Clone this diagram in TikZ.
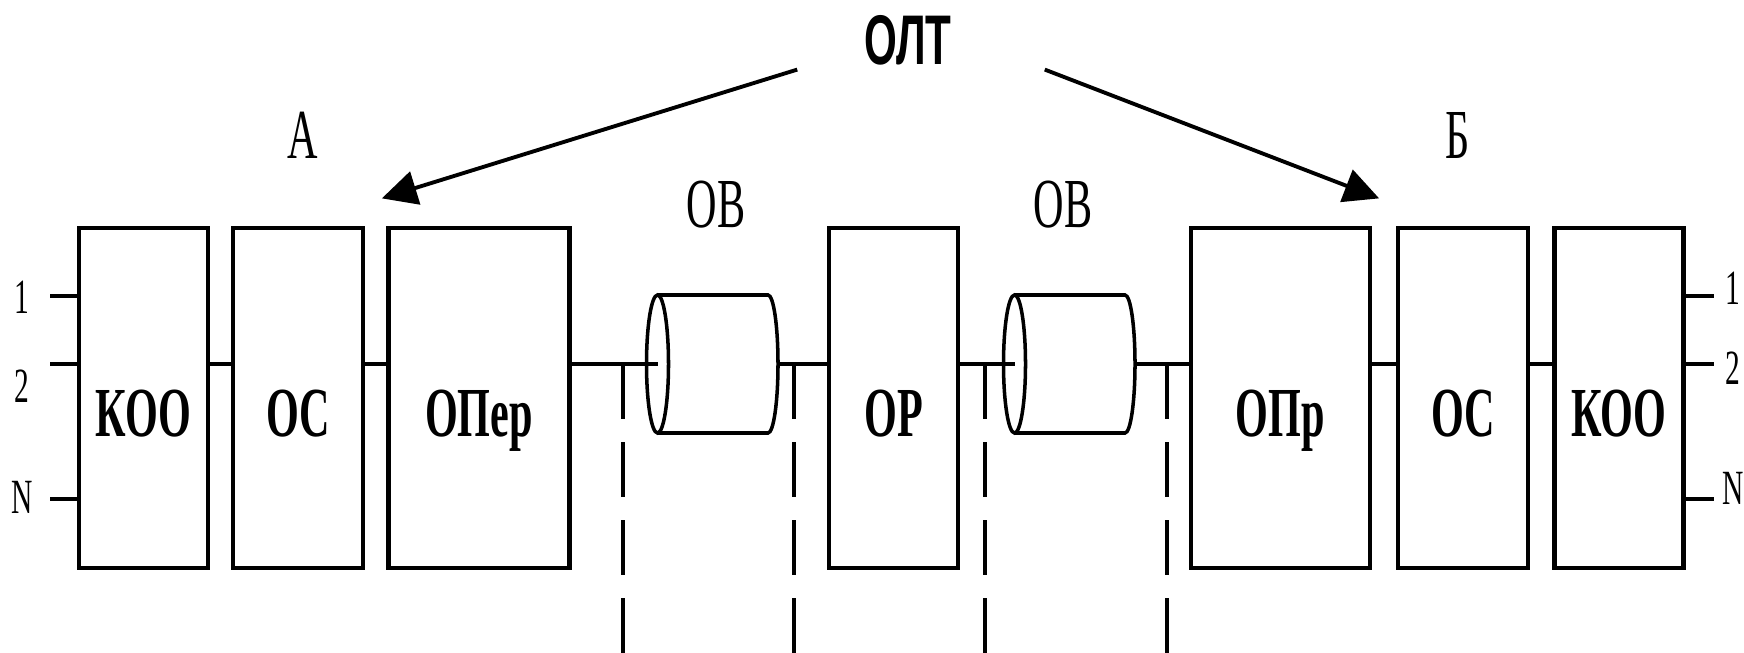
\documentclass[tikz,border=0pt]{standalone}
\usepackage{fontspec}
\setmainfont{Liberation Serif}
\setsansfont{Liberation Sans}
\usepackage{graphicx}
\usepackage{tikz}
\usetikzlibrary{arrows.meta,positioning}

\newcommand{\uzko}[1]{\scalebox{0.6}[1]{#1}}

\tikzset{
    blok/.style={
        draw,
        line width=1.2pt,
        minimum height=3.4cm,
        inner sep=0pt,
        text height=7.6mm,
        text depth=0pt,
        font=\fontsize{20}{24}\selectfont\bfseries
    },
    liniya/.style={line width=1.3pt},
    kabel/.style={line width=1pt},
    shtrih/.style={line width=1pt, dash pattern=on 5.5mm off 2.3mm},
    strelka/.style={line width=1.1pt, -{Triangle[length=3.5mm,width=3.4mm]}},
    nadpis/.style={inner sep=0pt, font=\fontsize{20}{24}\selectfont},
    nomer/.style={inner sep=0pt, font=\fontsize{14}{16}\selectfont}
}

\begin{document}
\begin{tikzpicture}
                \useasboundingbox (0,0) rectangle (17.44,-6.53);

                \node[blok, minimum width=1.29cm] (koo1) at (1.435,-3.98) {\uzko{КОО}};
                \node[blok, minimum width=1.30cm, right=2.1mm of koo1] (oc1) {\uzko{ОС}};
                \node[blok, minimum width=1.81cm, right=2.1mm of oc1] (oper) {\uzko{ОПер}};

                \node[blok, minimum width=1.29cm] (or) at (8.935,-3.98) {\uzko{ОР}};

                \node[blok, minimum width=1.79cm] (opr) at (12.805,-3.98) {\uzko{ОПр}};
                \node[blok, minimum width=1.30cm, right=2.4mm of opr] (oc2) {\uzko{ОС}};
                \node[blok, minimum width=1.29cm, right=2.2mm of oc2] (koo2) {\uzko{КОО}};

                \foreach \n/\x in {ov1/6.575, ov2/10.145}{
                    \coordinate (\n) at (\x,-3.64);
                    \coordinate (\n-end) at (\x+1.205,-3.64);
                    \draw[kabel] (\n) ellipse [x radius=0.11, y radius=0.69];
                    \draw[kabel] ([yshift=6.9mm]\n) -- ++(1.105,0)
                        arc[start angle=90, end angle=-90, x radius=0.1, y radius=0.69] -- ++(-1.105,0);
                }

                \foreach \a/\b in {koo1/oc1, oc1/oper, opr/oc2, oc2/koo2}
                    \draw[liniya] (\a.east |- ov1) -- (\b.west |- ov1);
                \draw[liniya] (oper.east |- ov1) -- (ov1);
                \draw[liniya] (ov1-end) -- (or.west |- ov1);
                \draw[liniya] (or.east |- ov2) -- (ov2);
                \draw[liniya] (ov2-end) -- (opr.west |- ov2);

                \foreach \x in {6.23, 7.94, 9.85, 11.67}
                    \draw[shtrih] (\x,-3.64) -- (\x,-6.53);

                \foreach \nm/\t/\yl/\yp/\yr in {a/1/2.96/2.97/2.88, b/2/3.64/3.86/3.68, c/N/4.99/4.97/4.88}{
                    \node[nomer] (lev\nm) at (0.22,-\yp) {\uzko{\t}};
                    \node[nomer] (prav\nm) at (17.33,-\yr) {\uzko{\t}};
                    \draw[liniya] (koo1.west |- 0,-\yl) -- ++(-0.27,0);
                    \draw[liniya] (koo2.east |- 0,-\yl) -- ++(0.28,0);
                }

                \node[nadpis] (ovt1) at (7.16,-2.05) {\uzko{ОВ}};
                \node[nadpis] (ovt2) at (10.63,-2.05) {\uzko{ОВ}};
                \node[nadpis] (storA) at (3.03,-1.35) {\uzko{А}};
                \node[nadpis] (storB) at (14.58,-1.35) {\uzko{Б}};

                \node[nadpis, font=\fontsize{20}{24}\selectfont\sffamily\bfseries] (olt) at (9.08,-0.40) {\uzko{ОЛТ}};

                \draw[strelka] ([xshift=-6.65mm,yshift=-0.4mm]olt.south west) -- ([xshift=-0.45mm,yshift=2.75mm]oper.north west);
                \draw[strelka] ([xshift=9.25mm,yshift=-0.4mm]olt.south east) -- ([xshift=0.7mm,yshift=2.75mm]opr.north east);

            \end{tikzpicture}
\end{document}
